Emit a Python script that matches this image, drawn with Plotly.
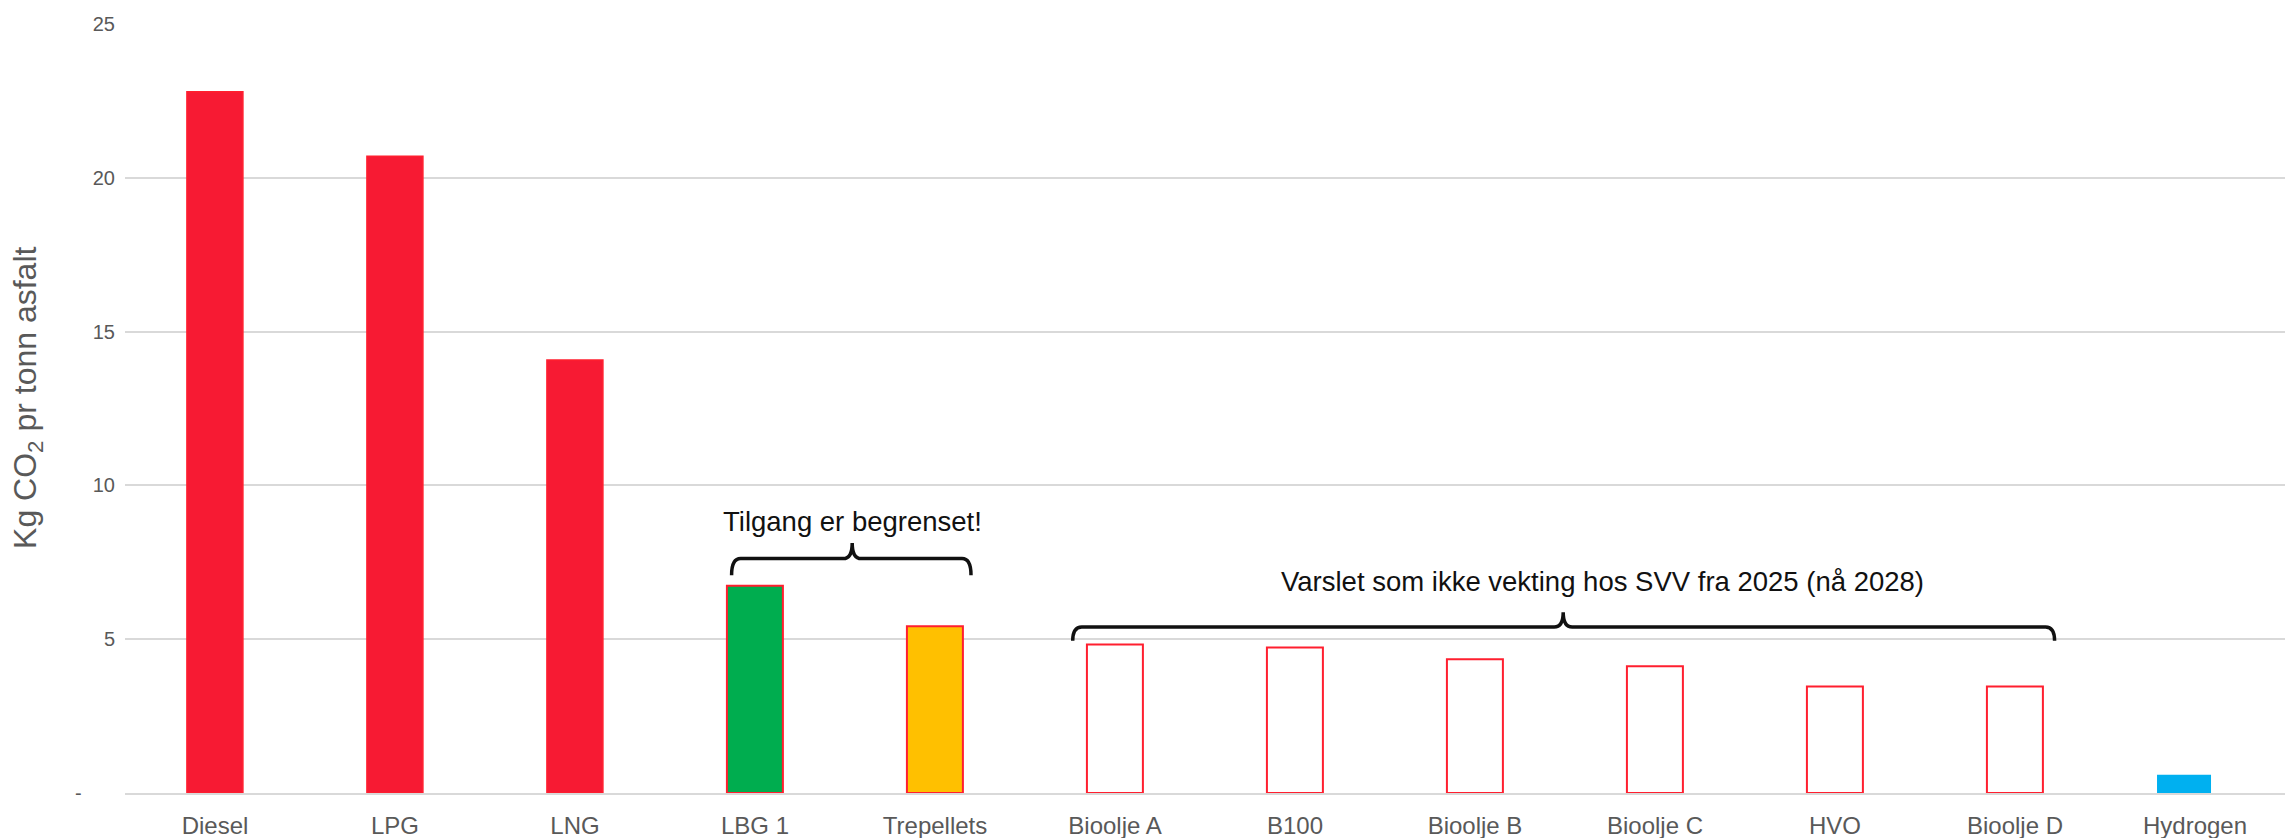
import plotly.graph_objects as go

categories = ["Diesel", "LPG", "LNG", "LBG 1", "Trepellets", "Bioolje A", "B100",
              "Bioolje B", "Bioolje C", "HVO", "Bioolje D", "Hydrogen"]
values = [22.8, 20.7, 14.08, 6.74, 5.42, 4.83, 4.73, 4.35, 4.12, 3.46, 3.46, 0.59]

y_tickvals = [0, 5, 10, 15, 20, 25]
y_ticktext = ["-" + "\u00a0" * 6, "5", "10", "15", "20", "25"]

fill_colors = ["#F71A33", "#F71A33", "#F71A33", "#00AD4F", "#FFC000",
               "#FFFFFF", "#FFFFFF", "#FFFFFF", "#FFFFFF", "#FFFFFF", "#FFFFFF", "#00B0F0"]
line_colors = ["#FF1F2F"] * 11 + ["#00B0F0"]
line_widths = [1.5, 1.5, 1.5, 2, 2, 2, 2, 2, 2, 2, 2, 0]
bar_widths = [0.311] * 11 + [0.30]
bar_offsets = [-0.156] * 11 + [-0.211]

x_idx = list(range(len(categories)))

fig = go.Figure()
fig.add_trace(go.Bar(
    x=x_idx, y=values,
    width=bar_widths, offset=bar_offsets,
    marker=dict(color=fill_colors, line=dict(color=line_colors, width=line_widths)),
    hoverinfo="skip",
))

def bracket(x0, x1, xc, yb, yh, yp, dx):
    return (f"M {x0},{yb} Q {x0},{yh} {x0+dx},{yh} L {xc-dx},{yh} "
            f"Q {xc},{yh} {xc},{yp} Q {xc},{yh} {xc+dx},{yh} "
            f"L {x1-dx},{yh} Q {x1},{yh} {x1},{yb}")

fig.add_shape(type="path", xref="x", yref="y",
              path=bracket(2.87, 4.20, 3.54, 7.08, 7.62, 8.13, 0.05),
              line=dict(color="#111111", width=3.5))
fig.add_shape(type="path", xref="x", yref="y",
              path=bracket(4.765, 10.22, 7.49, 4.95, 5.40, 5.88, 0.05),
              line=dict(color="#111111", width=3.5))

fig.add_annotation(x=3.54, y=8.84, xref="x", yref="y", text="Tilgang er begrenset!",
                   showarrow=False, font=dict(family="Liberation Sans, Arial, sans-serif", size=27.5, color="#111111"))
fig.add_annotation(x=7.71, y=6.86, xref="x", yref="y",
                   text="Varslet som ikke vekting hos SVV fra 2025 (nå 2028)",
                   showarrow=False, font=dict(family="Liberation Sans, Arial, sans-serif", size=27.5, color="#111111"))

fig.add_annotation(x=-0.0448, y=0.514, xref="paper", yref="paper",
                   text="Kg CO<sub>2</sub> pr tonn asfalt", textangle=-90,
                   showarrow=False, xanchor="center", yanchor="middle", borderpad=0,
                   font=dict(family="Liberation Sans, Arial, sans-serif", size=32, color="#595959"))

fig.update_layout(
    width=2287, height=830,
    margin=dict(l=117, r=10, t=16, b=45, pad=0, autoexpand=False),
    paper_bgcolor="white", plot_bgcolor="white",
    showlegend=False,
    font=dict(family="Liberation Sans, Arial, sans-serif", color="#595959"),
    xaxis=dict(
        tickmode="array", tickvals=x_idx, ticktext=categories, automargin=False,
        range=[-0.5, 11.5], showgrid=False, showline=True, linecolor="#D9D9D9", linewidth=2,
        ticks="", ticklabelstandoff=10, tickfont=dict(size=24, color="#595959"), zeroline=False,
    ),
    yaxis=dict(
        range=[0, 25], tickmode="array", tickvals=y_tickvals, ticktext=y_ticktext, automargin=False,
        showgrid=True, gridcolor="#D9D9D9", gridwidth=1.5, zeroline=False, showline=False,
        ticks="", ticklabelstandoff=9, tickfont=dict(size=20, color="#595959"),
    ),
)

fig.write_html("out.html")
